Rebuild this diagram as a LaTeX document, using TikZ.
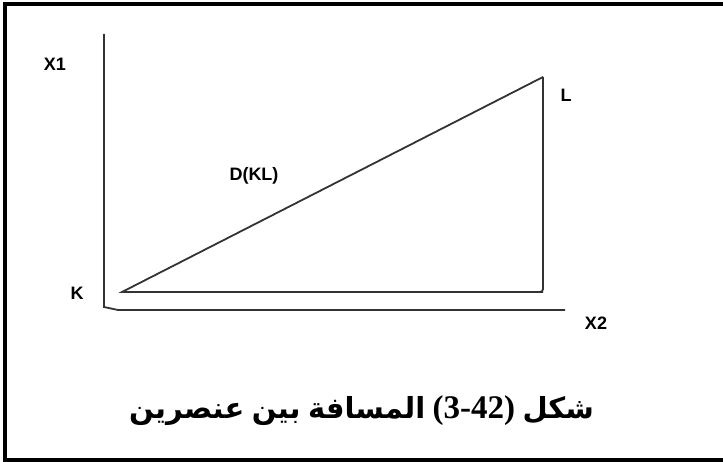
\documentclass[tikz,border=0pt]{standalone}
\usepackage{fontspec}
\usetikzlibrary{positioning}
\setmainfont{Liberation Sans}
\newfontfamily\arabicfont[Script=Arabic]{DejaVu Sans}
\newfontfamily\digitfont{Liberation Serif}
\TeXXeTstate=1
\tikzset{
  axisline/.style={line width=1.8pt, draw=black!80},
  sideline/.style={line width=1.8pt, draw=black!80},
  lbl/.style={font=\fontsize{18}{18}\selectfont\bfseries, inner sep=0pt},
  capword/.style={font=\fontsize{29}{29}\selectfont\bfseries\arabicfont, inner sep=0pt},
}
\begin{document}
\begin{tikzpicture}[x=1pt,y=-1pt]
\useasboundingbox (0,0) rectangle (723,462);
% frame
\draw[line width=4pt] (5,4) rectangle (730,459.5);
% coordinates
\coordinate (top)    at (104, 34);
\coordinate (corner) at (104,307);
\coordinate (kink)   at (118,310);
\coordinate (right)  at (565,310);
\coordinate (K) at (122,292);
\coordinate (L) at (543, 77);
\coordinate (M) at (543,292);
% axes
\draw[axisline] (top) -- (corner) -- (kink) -- (right);
% triangle
\draw[sideline] (M) -- (K) -- (L);
\draw[sideline, rounded corners=3pt] (L) -- (M) -- (K);
% labels
\node[lbl] (x1)  at ( 55, 64) {X1};
\node[lbl] (x2)  at (596,323) {X2};
\node[lbl] (kl)  at ( 77,293) {K};
\node[lbl] (ll)  at (566, 95) {L};
\node[lbl] (dkl) at (254,176) {D(KL)};
% caption, right to left
\node[capword, anchor=base east] (c1) at (594,418) {\beginR شكل\endR};
\node[capword, font=\fontsize{33}{33}\selectfont\bfseries\digitfont, base left=7pt of c1] (c2) {(3-42)};
\node[capword, base left=7pt of c2] (c3) {\beginR المسافة\endR};
\node[capword, base left=7pt of c3] (c4) {\beginR بين\endR};
\node[capword, base left=7pt of c4] (c5) {\beginR عنصرين\endR};
\end{tikzpicture}
\end{document}
